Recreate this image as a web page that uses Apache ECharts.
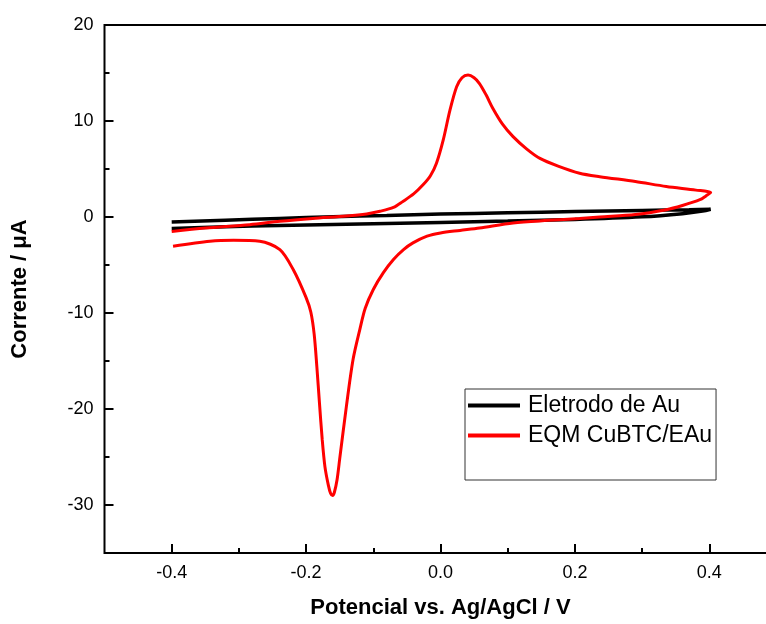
<!DOCTYPE html>
<html>
<head>
<meta charset="utf-8">
<title>Voltametria cíclica</title>
<script src="https://cdn.jsdelivr.net/npm/echarts@6/dist/echarts.min.js"></script>
<style>
  html, body { margin: 0; padding: 0; background: #fff; overflow: hidden; }
  #chart { width: 790px; height: 624px; }
</style>
</head>
<body>
<div id="chart"></div>
<script>
// Potential window and current range
const xRange = [-0.5, 0.5];
const yRange = [-35, 20];
const xMajorTicks = [-0.4, -0.2, 0.0, 0.2, 0.4];
const xMinorTicks = [-0.3, -0.1, 0.1, 0.3];
const yMajorTicks = [-30, -20, -10, 0, 10, 20];
const yMinorTicks = [-25, -15, -5, 5, 15];

const seriesNames = ['Eletrodo de Au', 'EQM CuBTC/EAu'];

// Bare gold electrode: anodic sweep then cathodic return [E (V), I (µA)]
const auElectrode = [
  [-0.400, -0.52], [-0.320, -0.33], [-0.240, -0.15], [-0.160, 0.02],
  [-0.080, 0.16], [0.000, 0.30], [0.100, 0.44], [0.200, 0.56],
  [0.300, 0.68], [0.370, 0.76], [0.402, 0.80],
  [0.390, 0.62], [0.360, 0.35], [0.300, 0.02], [0.200, -0.26],
  [0.100, -0.42], [0.000, -0.56], [-0.120, -0.72], [-0.240, -0.88],
  [-0.320, -1.02], [-0.400, -1.20]
];

// CuBTC-modified electrode: anodic sweep (oxidation peak) then cathodic sweep (reduction peak)
const cubtcElectrode = [
  [-0.400, -1.50], [-0.350, -1.15], [-0.284, -0.80], [-0.239, -0.45],
  [-0.190, -0.15], [-0.140, 0.10], [-0.110, 0.32], [-0.090, 0.60],
  [-0.070, 1.00], [-0.056, 1.62], [-0.040, 2.40], [-0.026, 3.35],
  [-0.015, 4.30], [-0.006, 5.60], [0.004, 8.00], [0.014, 11.10],
  [0.024, 13.56], [0.032, 14.50], [0.041, 14.78], [0.050, 14.50],
  [0.058, 13.90], [0.068, 12.70], [0.078, 11.30], [0.092, 9.70],
  [0.108, 8.37], [0.128, 7.10], [0.148, 6.10], [0.175, 5.30],
  [0.207, 4.56], [0.237, 4.20], [0.290, 3.70], [0.336, 3.18],
  [0.380, 2.80], [0.402, 2.55],
  [0.395, 2.20], [0.386, 1.80], [0.360, 1.20], [0.336, 0.76],
  [0.290, 0.25], [0.237, 0.00], [0.207, -0.15], [0.160, -0.35],
  [0.108, -0.62], [0.058, -1.15], [0.029, -1.40], [0.000, -1.66],
  [-0.020, -2.00], [-0.041, -2.70], [-0.055, -3.40], [-0.070, -4.43],
  [-0.085, -5.80], [-0.100, -7.55], [-0.112, -9.50], [-0.120, -11.70],
  [-0.130, -14.80], [-0.140, -19.70], [-0.150, -25.20], [-0.154, -27.40],
  [-0.158, -28.70], [-0.1606, -29.00], [-0.1635, -28.80], [-0.167, -27.90],
  [-0.172, -26.00], [-0.176, -23.20], [-0.180, -19.50], [-0.184, -15.60],
  [-0.188, -12.20], [-0.193, -9.90], [-0.200, -8.40], [-0.219, -5.50],
  [-0.239, -3.40], [-0.269, -2.53], [-0.308, -2.43], [-0.343, -2.53],
  [-0.398, -3.05]
];

const chart = echarts.init(document.getElementById('chart'), null, { renderer: 'canvas' });

const fontFamily = '"Liberation Sans", Arial, sans-serif';

function baseX(extra) {
  return Object.assign({
    type: 'value',
    gridIndex: 0,
    position: 'bottom',
    min: xRange[0],
    max: xRange[1],
    axisLine: { show: false, onZero: false },
    splitLine: { show: false },
    axisLabel: { show: false }
  }, extra);
}
function baseY(extra) {
  return Object.assign({
    type: 'value',
    gridIndex: 0,
    position: 'left',
    min: yRange[0],
    max: yRange[1],
    axisLine: { show: false, onZero: false },
    splitLine: { show: false },
    axisLabel: { show: false }
  }, extra);
}

const option = {
  backgroundColor: '#ffffff',
  animation: false,
  grid: {
    left: 104.5,
    top: 25,
    right: 13.5,
    bottom: 69.5,
    show: true,
    borderColor: '#000',
    borderWidth: 2,
    backgroundColor: 'transparent'
  },
  legend: {
    orient: 'vertical',
    left: 465,
    top: 389,
    padding: [5, 4, 33, 3],
    itemGap: 7,
    borderColor: '#333',
    borderWidth: 1,
    icon: 'rect',
    itemWidth: 52,
    itemHeight: 4,
    textStyle: { fontFamily: fontFamily, fontSize: 23, color: '#000', padding: [0, 0, 0, 3] },
    data: seriesNames
  },
  xAxis: [
    baseX({
      name: 'Potencial vs. Ag/AgCl / V',
      nameLocation: 'middle',
      nameGap: 44,
      nameTextStyle: { fontFamily: fontFamily, fontSize: 22, fontWeight: 'bold', color: '#000' },
      axisTick: { show: true, inside: true, length: 9, customValues: xMajorTicks, lineStyle: { color: '#000', width: 2 } },
      axisLabel: {
        show: true, margin: 11, customValues: xMajorTicks,
        fontFamily: fontFamily, fontSize: 18, color: '#000',
        formatter: v => v.toFixed(1)
      }
    }),
    baseX({
      axisTick: { show: true, inside: true, length: 5, customValues: xMinorTicks, lineStyle: { color: '#000', width: 2 } }
    })
  ],
  yAxis: [
    baseY({
      name: 'Corrente / μA',
      nameLocation: 'middle',
      nameGap: 74,
      nameTextStyle: { fontFamily: fontFamily, fontSize: 22, fontWeight: 'bold', color: '#000' },
      axisTick: { show: true, inside: true, length: 9, customValues: yMajorTicks, lineStyle: { color: '#000', width: 2 } },
      axisLabel: {
        show: true, margin: 11, customValues: yMajorTicks,
        fontFamily: fontFamily, fontSize: 18, color: '#000',
        formatter: v => String(v)
      }
    }),
    baseY({
      axisTick: { show: true, inside: true, length: 5, customValues: yMinorTicks, lineStyle: { color: '#000', width: 2 } }
    })
  ],
  series: [
    {
      name: seriesNames[0],
      type: 'line',
      xAxisIndex: 0,
      yAxisIndex: 0,
      data: auElectrode,
      showSymbol: false,
      smooth: 0.3,
      lineStyle: { color: '#000000', width: 3.5 },
      itemStyle: { color: '#000000' }
    },
    {
      name: seriesNames[1],
      type: 'line',
      xAxisIndex: 0,
      yAxisIndex: 0,
      data: cubtcElectrode,
      showSymbol: false,
      smooth: 0.3,
      lineStyle: { color: '#ff0000', width: 3 },
      itemStyle: { color: '#ff0000' }
    }
  ]
};

chart.setOption(option);
</script>
</body>
</html>
